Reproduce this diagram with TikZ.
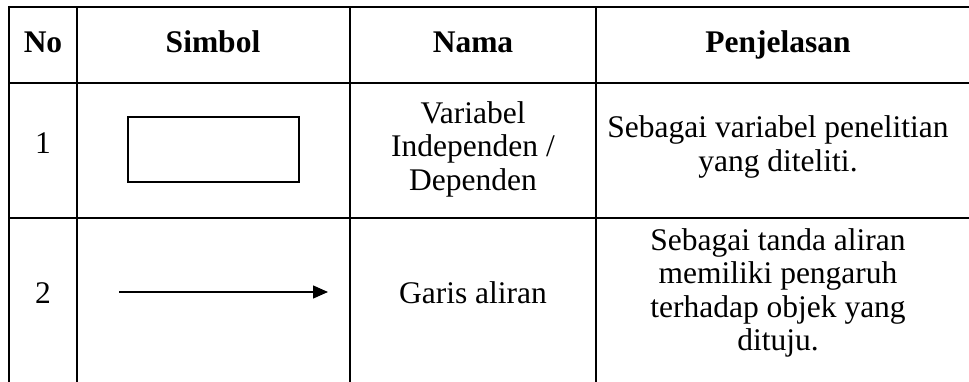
\documentclass[tikz,border=0pt]{standalone}
\usepackage{fontspec}
\setmainfont{Liberation Serif}
\usetikzlibrary{arrows.meta}
\tikzset{
	cell/.style={align=center, inner sep=0pt, font=\fontsize{31.5}{33.5}\selectfont},
	head/.style={cell, anchor=base, font=\fontsize{31.5}{33.5}\selectfont\bfseries},
	rule/.style={line width=2pt},
	thinrule/.style={line width=1.2pt}
}

\begin{document}
\begin{tikzpicture}[x=1pt, y=-1pt]
		%%%%% START %%%%%
		\useasboundingbox (0, 0) rectangle (969, 382);
		
		\draw[rule] (8, 7) -- (969, 7);
		\draw[rule] (8, 83) -- (969, 83);
		\draw[rule] (8, 218) -- (969, 218);
		
		\draw[rule] (9, 6) -- (9, 382);
		\draw[thinrule] (77, 7) -- (77, 218);
		\draw[thinrule] (350, 7) -- (350, 218);
		\draw[thinrule] (596, 7) -- (596, 218);
		\draw[rule] (77, 218) -- (77, 382);
		\draw[rule] (350, 218) -- (350, 382);
		\draw[rule] (596, 218) -- (596, 382);
		
		\node[head] (hNo) at (43, 53) {No};
		\node[head] (hSimbol) at (213, 53) {Simbol};
		\node[head] (hNama) at (473, 53) {Nama};
		\node[head] (hPenj) at (778, 53) {Penjelasan};
		
		\node[cell] (no1) at (43, 143) {1};
		\node[draw, line width=1.5pt, minimum width=171pt, minimum height=65pt] (box) at (213.5, 149.5) {};
		\node[cell] (nama1) at (473, 149) {Variabel\\Independen /\\Dependen};
		\node[cell] (penj1) at (778, 147) {Sebagai variabel penelitian\\yang diteliti.};
		
		\node[cell] (no2) at (43, 293) {2};
		\coordinate (arrS) at (119, 292);
		\coordinate (arrE) at (328, 292);
		\draw[line width=1.3pt, -{Triangle[length=15pt, width=13pt]}] (arrS) -- (arrE);
		\node[cell] (nama2) at (473, 293) {Garis aliran};
		\node[cell] (penj2) at (778, 293) {Sebagai tanda aliran\\memiliki pengaruh\\terhadap objek yang\\dituju.};
		
		%%%%% END %%%%%
	\end{tikzpicture}
\end{document}
